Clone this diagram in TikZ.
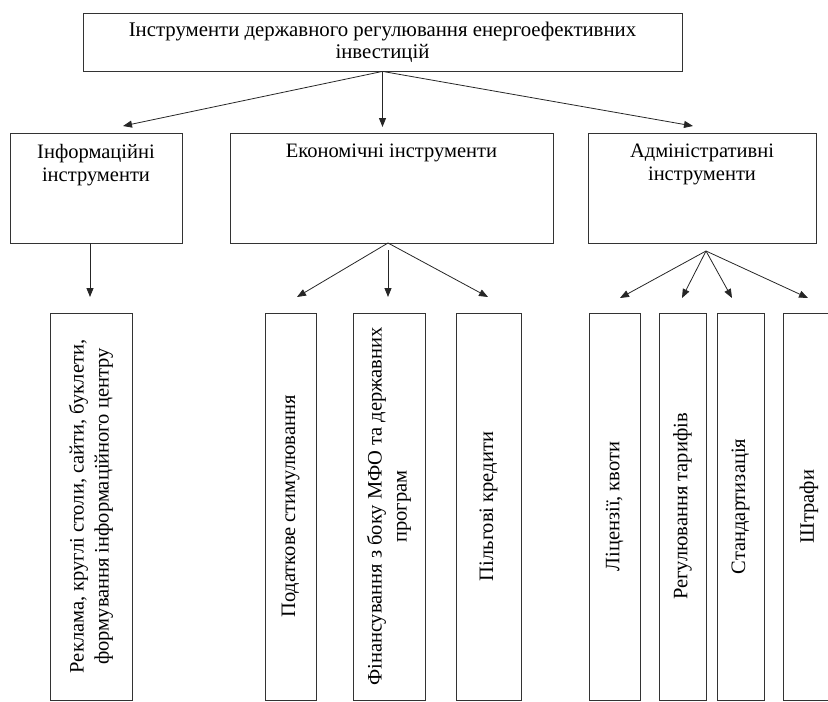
\documentclass[tikz,border=0pt]{standalone}
\usepackage{fontspec}
\setmainfont{Liberation Serif}
\usetikzlibrary{positioning,arrows.meta}

\tikzset{
  box/.style={draw=black!80, line width=0.8pt, inner sep=0pt},
  topbox/.style={box, minimum width=599pt, minimum height=58pt, align=center,
    font=\fontsize{20.8}{22}\selectfont},
  groupbox/.style={box, minimum height=110pt},
  grouptext/.style={anchor=north, align=center, inner sep=0pt, yshift=-11pt,
    font=\fontsize{20.5}{23}\selectfont},
  leafbox/.style={box, rotate=90, minimum width=387pt, align=center,
    font=\fontsize{20.5}{25}\selectfont},
  arr/.style={-{Triangle[length=9pt,width=7pt]}, line width=0.8pt, black!85},
}

\begin{document}
\begin{tikzpicture}[x=1pt,y=-1pt]

  \useasboundingbox (0,0) rectangle (828,702);
  \clip (0,0) rectangle (828,702);

  % top level
  \node[topbox] (top) at (382.5,42)
    {Інструменти державного регулювання енергоефективних\\інвестицій};

  % groups
  \node[groupbox, minimum width=172pt] (info) at (96,188) {};
  \node[groupbox, minimum width=323pt] (econ) at (391.5,188) {};
  \node[groupbox, minimum width=228pt] (admin) at (702,188) {};
  \node[grouptext] (infot) at (info.north) {Інформаційні\\інструменти};
  \node[grouptext] (econt) at (econ.north) {Економічні інструменти};
  \node[grouptext] (admint) at (admin.north) {Адміністративні\\інструменти};

  % leaves
  \node[leafbox, minimum height=82pt] (rek) at (91,506.5)
    {Реклама, круглі столи, сайти, буклети,\\формування інформаційного центру};
  \node[leafbox, minimum height=51pt] (pod) at (290.5,506.5) {Податкове стимулювання};
  \node[leafbox, minimum height=72pt] (fin) at (389,506.5)
    {Фінансування з боку МФО та державних\\програм};
  \node[leafbox, minimum height=65pt] (pil) at (488.5,506.5) {Пільгові кредити};
  \node[leafbox, minimum height=51pt] (lic) at (614.5,506.5) {Ліцензії, квоти};
  \node[leafbox, minimum height=47pt] (reg) at (682.5,506.5) {Регулювання тарифів};
  \node[leafbox, minimum height=47pt] (std) at (740.5,506.5) {Стандартизація};
  \node[leafbox, minimum height=52pt] (sht) at (809,506.5) {Штрафи};

  % arrow ends
  \coordinate (t1) at (123,126);
  \coordinate (t2) at (382.5,127);
  \coordinate (t3) at (693,126);
  \coordinate (ihub) at (90,243);
  \coordinate (i1) at (90,297);
  \coordinate (ehub) at (388,243);
  \coordinate (ehubm) at (388,250);
  \coordinate (e1) at (297,297);
  \coordinate (e2) at (388,297);
  \coordinate (e3) at (488,297);
  \coordinate (ahub) at (706,251);
  \coordinate (a1) at (620,298);
  \coordinate (a2) at (682,298);
  \coordinate (a3) at (732,298);
  \coordinate (a4) at (808,298);

  \foreach \t in {t1,t2,t3}
    \draw[arr] (top.south) -- (\t);
  \draw[arr] (ihub) -- (i1);
  \draw[arr] (ehub) -- (e1);
  \draw[arr] (ehubm) -- (e2);
  \draw[arr] (ehub) -- (e3);
  \foreach \t in {a1,a2,a3,a4}
    \draw[arr] (ahub) -- (\t);

\end{tikzpicture}
\end{document}
